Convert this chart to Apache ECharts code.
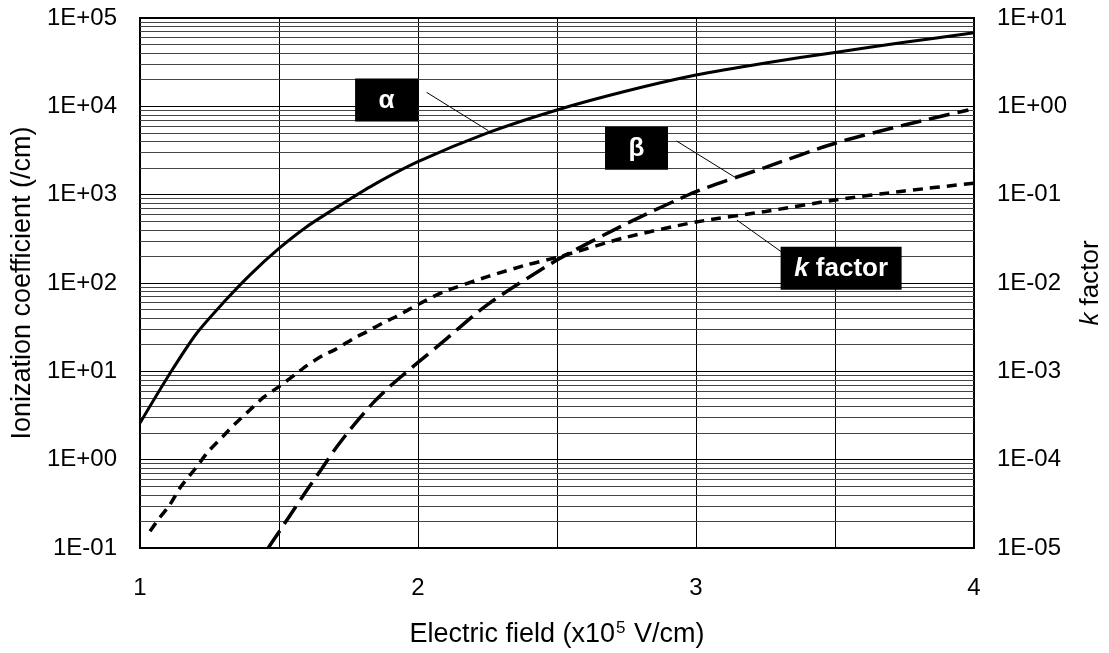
<!DOCTYPE html>
<html>
<head>
<meta charset="utf-8">
<script src="https://cdn.jsdelivr.net/npm/echarts@6/dist/echarts.min.js"></script>
<style>
  html, body { margin: 0; padding: 0; background: #fff; }
  #chart { width: 1109px; height: 653px; }
</style>
</head>
<body>
<div id="chart"></div>
<script>
// Electron ionization coefficient α (/cm) against electric field (x10^5 V/cm)
const alphaField  = [1.0, 1.108, 1.204, 1.30, 1.395, 1.5, 1.6, 1.72, 1.84, 2.0, 2.25, 2.5, 2.75, 3.0, 3.25, 3.5, 3.75, 4.0];
const alphaValues = [2.6, 9.5, 27, 60, 123, 246, 434, 760, 1290, 2360, 5000, 9100, 14900, 22600, 31000, 40800, 53000, 68000];

// Hole ionization coefficient β (/cm)
const betaField  = [1.461, 1.50, 1.54, 1.60, 1.65, 1.695, 1.743, 1.79, 1.84, 1.90, 1.95, 2.0, 2.1, 2.25, 2.5, 2.75, 3.0, 3.25, 3.5, 3.75, 3.98];
const betaValues = [0.1, 0.152, 0.235, 0.45, 0.76, 1.23, 1.95, 2.95, 4.45, 6.8, 9.3, 12.6, 23, 57, 182, 470, 1080, 2040, 3820, 6150, 9100];

// k factor (β/α), right axis
const kField  = [1.036, 1.072, 1.105, 1.146, 1.20, 1.245, 1.297, 1.345, 1.395, 1.445, 1.50, 1.56, 1.60, 1.66, 1.70, 1.77, 1.815, 1.875, 1.92, 2.0, 2.09, 2.25, 2.39, 2.5, 2.75, 3.0, 3.25, 3.5, 3.75, 4.0];
const kValues = [1.55e-5, 2.23e-5, 3.0e-5, 4.9e-5, 8.0e-5, 1.23e-4, 1.82e-4, 2.6e-4, 3.65e-4, 5.1e-4, 6.7e-4, 9.3e-4, 1.16e-3, 1.53e-3, 1.75e-3, 2.37e-3, 2.8e-3, 3.55e-3, 4.15e-3, 5.7e-3, 7.9e-3, 1.18e-2, 1.6e-2, 1.95e-2, 3.3e-2, 4.9e-2, 6.45e-2, 8.7e-2, 0.11, 0.135];

// Tick labels
const xTickLabels     = ['1', '2', '3', '4'];
const leftTickLabels  = ['1E-01', '1E+00', '1E+01', '1E+02', '1E+03', '1E+04', '1E+05'];
const rightTickLabels = ['1E-05', '1E-04', '1E-03', '1E-02', '1E-01', '1E+00', '1E+01'];

const FONT = '"Liberation Sans", Arial, sans-serif';
const LEFT_MIN = 0.1, LEFT_MAX = 1e5, RIGHT_MIN = 1e-5, RIGHT_MAX = 10;

function pairs(xs, ys) { return xs.map((x, i) => [x, ys[i]]); }

// Minor horizontal grid lines (2..9 within every decade)
const minorLines = [];
for (let e = -1; e < 5; e++) {
  for (let m = 2; m <= 9; m++) minorLines.push({ yAxis: m * Math.pow(10, e) });
}

function decadeLabel(labels, min) {
  return function (v) {
    const i = Math.round(Math.log10(v) - Math.log10(min));
    return labels[i] !== undefined ? labels[i] : '';
  };
}

const option = {
  animation: false,
  backgroundColor: '#fff',
  textStyle: { fontFamily: FONT, color: '#000' },
  grid: {
    left: 140, right: 135, top: 18, bottom: 105,
    outerBoundsMode: 'none', containLabel: false,
    show: true, borderColor: '#000', borderWidth: 2, backgroundColor: 'transparent'
  },
  xAxis: {
    type: 'value', min: 1, max: 4, interval: 0.5,
    axisLine: { show: false }, axisTick: { show: false },
    splitLine: { show: true, lineStyle: { color: '#000', width: 1 } },
    axisLabel: {
      fontSize: 24, fontFamily: FONT, color: '#000', margin: 28,
      formatter: v => (Number.isInteger(v) ? xTickLabels[v - 1] : '')
    },
    name: '{a|Electric field (x10}{s|5}{a| V/cm)}',
    nameLocation: 'middle', nameGap: 72,
    nameTextStyle: {
      rich: {
        a: { fontSize: 27, fontFamily: FONT, color: '#000' },
        s: { fontSize: 17, fontFamily: FONT, color: '#000', padding: [0, 1, 13, 1] }
      }
    }
  },
  yAxis: [
    {
      type: 'log', logBase: 10, min: LEFT_MIN, max: LEFT_MAX, splitNumber: 6,
      position: 'left',
      axisLine: { show: false }, axisTick: { show: false },
      splitLine: { show: true, lineStyle: { color: '#000', width: 1 } },
      axisLabel: { fontSize: 24, fontFamily: FONT, color: '#000', margin: 23, formatter: decadeLabel(leftTickLabels, LEFT_MIN) },
      name: 'Ionization coefficient (/cm)',
      nameLocation: 'middle', nameRotate: 90, nameGap: 104,
      nameTextStyle: { fontSize: 27, fontFamily: FONT, color: '#000' }
    },
    {
      type: 'log', logBase: 10, min: RIGHT_MIN, max: RIGHT_MAX, splitNumber: 6,
      position: 'right',
      axisLine: { show: false }, axisTick: { show: false },
      splitLine: { show: false },
      axisLabel: { fontSize: 24, fontFamily: FONT, color: '#000', margin: 23, formatter: decadeLabel(rightTickLabels, RIGHT_MIN) },
      name: '{i|k} factor',
      nameLocation: 'middle', nameRotate: 90, nameGap: 104,
      nameTextStyle: {
        fontSize: 26, fontFamily: FONT, color: '#000',
        rich: {
          i: { fontSize: 26, fontFamily: FONT, fontStyle: 'italic', color: '#000' }
        }
      }
    }
  ],
  series: [
    {
      name: 'minor grid', type: 'line', data: [], yAxisIndex: 0, z: 1, silent: true,
      markLine: {
        silent: true, symbol: 'none', animation: false,
        label: { show: false },
        lineStyle: { color: '#444', width: 1, type: 'solid' },
        emphasis: { disabled: true },
        data: minorLines
      }
    },
    {
      name: 'α', type: 'line', yAxisIndex: 0, z: 5,
      data: pairs(alphaField, alphaValues),
      showSymbol: false, smooth: 0.25,
      lineStyle: { color: '#000', width: 3 }
    },
    {
      name: 'β', type: 'line', yAxisIndex: 0, z: 5,
      data: pairs(betaField, betaValues),
      showSymbol: false, smooth: 0.25,
      lineStyle: { color: '#000', width: 3.5, type: [21, 8] }
    },
    {
      name: 'k factor', type: 'line', yAxisIndex: 1, z: 5,
      data: pairs(kField, kValues),
      showSymbol: false, smooth: 0.25,
      lineStyle: { color: '#000', width: 3.5, type: [10, 7] }
    }
  ]
};

const chart = echarts.init(document.getElementById('chart'), null, { renderer: 'canvas' });
chart.setOption(option);

// Callout boxes with leader lines, placed in data units of the left axis
const callouts = [
  { text: 'α', center: [1.887, 11800], w: 63, h: 43, from: [2.031, 14400], to: [2.253, 5300] },
  { text: 'β', center: [2.786, 3350],  w: 63, h: 43, from: [2.93, 4050],   to: [3.14, 1575] },
  { text: '{i|k} factor', center: [3.522, 147], w: 121, h: 43, from: [3.354, 177], to: [3.147, 516] }
];

function toPx(p) { return chart.convertToPixel({ xAxisIndex: 0, yAxisIndex: 0 }, p); }

const graphics = [];
callouts.forEach(c => {
  const a = toPx(c.from), b = toPx(c.to), m = toPx(c.center);
  graphics.push({
    type: 'line', z: 10, silent: true,
    shape: { x1: a[0], y1: a[1], x2: b[0], y2: b[1] },
    style: { stroke: '#000', lineWidth: 1 }
  });
  graphics.push({
    type: 'rect', z: 11, silent: true,
    shape: { x: m[0] - c.w / 2, y: m[1] - c.h / 2, width: c.w, height: c.h },
    style: { fill: '#000' }
  });
  graphics.push({
    type: 'text', z: 12, silent: true,
    x: m[0], y: m[1] + 1,
    style: {
      text: c.text, fill: '#fff', align: 'center', verticalAlign: 'middle',
      font: 'bold 26px ' + FONT,
      rich: { i: { fontStyle: 'italic', fontWeight: 'bold', fontSize: 26, fontFamily: FONT, fill: '#fff' } }
    }
  });
});
chart.setOption({ graphic: graphics });
</script>
</body>
</html>
